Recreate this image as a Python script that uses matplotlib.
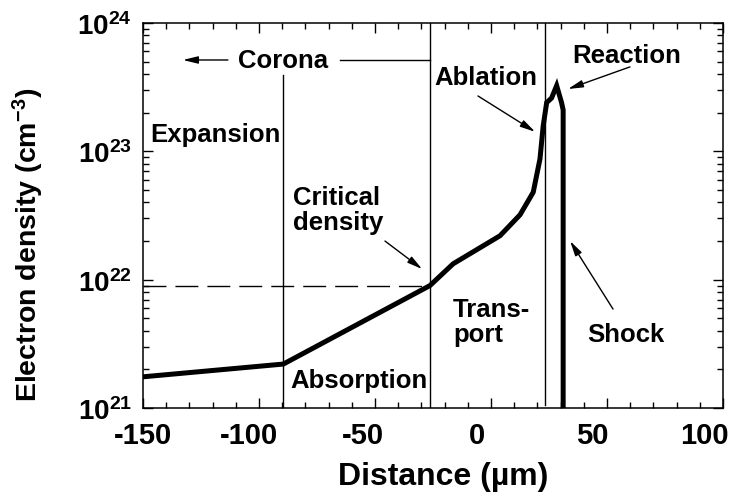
import numpy as np
import matplotlib
matplotlib.use("Agg")
import matplotlib.pyplot as plt
import matplotlib.transforms as mtransforms
from matplotlib.ticker import FixedLocator, LogLocator, MultipleLocator, FuncFormatter, NullFormatter

plt.rcParams['font.family'] = ['Liberation Sans', 'DejaVu Sans']
plt.rcParams['font.weight'] = 'bold'
plt.rcParams['mathtext.fontset'] = 'custom'
plt.rcParams['mathtext.rm'] = 'Liberation Sans:bold'
plt.rcParams['mathtext.bf'] = 'Liberation Sans:bold'
plt.rcParams['mathtext.it'] = 'Liberation Sans:bold'
plt.rcParams['mathtext.default'] = 'rm'

# ---- data ----
distance = [-150, -89.5, -26.3, -16.3, 3.9, 12.5, 18.2, 21.1, 22.5, 24.0, 26.1, 28.3, 30.4, 31.1, 31.1]
density = [1.75e21, 2.2e21, 9.0e21, 1.33e22, 2.2e22, 3.2e22, 4.8e22, 8.7e22, 1.58e23,
           2.4e23, 2.6e23, 3.25e23, 2.4e23, 2.1e23, 1.0e21]
critical_density = 9.0e21
boundaries = [-89.5, -26.3, 23.2]        # region boundary positions (um)
x_ticks = [-150, -100, -50, 0, 50, 100]
y_ticks = [1e21, 1e22, 1e23, 1e24]

fig = plt.figure(figsize=(7.37, 5.02), dpi=100)
ax = fig.add_axes([143/737, 1 - 409/502, (723-143)/737, (409-24)/502])
ax.set_yscale('log')
ax.set_xlim(-150, 100)
ax.set_ylim(1e21, 1e24)

# main curve
ax.plot(distance, density, color='black', lw=3.6, solid_joinstyle='miter', zorder=5)

# critical density dashed line
ax.plot([-150, boundaries[1]], [critical_density, critical_density], color='black', lw=1.0,
        dashes=(16.5, 6.5))

# region boundaries
ax.plot([boundaries[0], boundaries[0]], [3.9e23, 1e21], color='black', lw=1.0)
ax.plot([boundaries[1], boundaries[1]], [1e24, 1e21], color='black', lw=1.0)
ax.plot([boundaries[2], boundaries[2]], [1e24, 1.05e21], color='black', lw=1.0)

# corona bracket line
ax.plot([-65.1, boundaries[1]], [5.15e23, 5.15e23], color='black', lw=1.0)

fs = 18.5
arrow = dict(arrowstyle='-|>,head_length=0.9,head_width=0.22', color='black', lw=1.0,
             shrinkA=0, shrinkB=0)

ax.annotate('', xy=(-132.8, 5.15e23), xytext=(-113.4, 5.15e23), arrowprops=arrow)
ax.text(-89.7, 4.55e23, 'Corona', fontsize=fs, ha='center', va='baseline')
ax.text(-147, 1.21e23, 'Expansion', fontsize=fs, ha='left', va='baseline')
ax.text(-85.3, 3.89e22, 'Critical', fontsize=fs, ha='left', va='baseline')
ax.text(-85.3, 2.48e22, 'density', fontsize=fs, ha='left', va='baseline')
ax.annotate('', xy=(-29.7, 1.21e22), xytext=(-45.7, 2.0e22), arrowprops=arrow)
ax.text(-86.6, 1.46e21, 'Absorption', fontsize=fs, ha='left', va='baseline')
ax.text(-2.2, 3.35e23, 'Ablation', fontsize=fs, ha='center', va='baseline')
ax.annotate('', xy=(19.0, 1.42e23), xytext=(-5.6, 2.7e23), arrowprops=arrow)
ax.text(58.6, 4.98e23, 'Reaction', fontsize=fs, ha='center', va='baseline')
ax.annotate('', xy=(33.2, 3.06e23), xytext=(59.9, 4.55e23), arrowprops=arrow)
ax.text(-16.4, 5.21e21, 'Trans-', fontsize=fs, ha='left', va='baseline')
ax.text(-16.4, 3.33e21, 'port', fontsize=fs, ha='left', va='baseline')
ax.text(58.2, 3.33e21, 'Shock', fontsize=fs, ha='center', va='baseline')
ax.annotate('', xy=(34.1, 2.0e22), xytext=(52.6, 5.9e21), arrowprops=arrow)

# ticks
ax.xaxis.set_major_locator(FixedLocator(x_ticks))
ax.xaxis.set_minor_locator(MultipleLocator(10))
ax.yaxis.set_major_locator(FixedLocator(y_ticks))
ax.yaxis.set_minor_locator(LogLocator(base=10, subs=np.arange(2, 10)))
ax.yaxis.set_minor_formatter(NullFormatter())
ax.yaxis.set_major_formatter(FuncFormatter(lambda v, p: r'$10^{%d}$' % int(round(np.log10(v)))))
ax.xaxis.set_major_formatter(FuncFormatter(lambda v, p: '%d' % v))
ax.tick_params(which='both', direction='in', top=True, right=True, width=1.0)
ax.tick_params(axis='x', labelsize=21)
ax.tick_params(axis='y', labelsize=20)
ax.tick_params(which='major', length=7)
ax.tick_params(axis='x', which='major', pad=9)
ax.tick_params(axis='y', which='major', pad=8)
ax.tick_params(which='minor', length=4.3)
for s in ax.spines.values():
    s.set_linewidth(1.1)

# x tick labels in the reference sit slightly left of their ticks
label_shift_px = [0, -10, -12, -14, -15, -19]
for lab, dx in zip(ax.get_xticklabels(), label_shift_px):
    lab.set_transform(lab.get_transform() +
                      mtransforms.ScaledTranslation(dx / 100, 0, fig.dpi_scale_trans))

ax.set_xlabel('Distance (µm)', fontsize=23, fontweight='bold')
ax.xaxis.set_label_coords((443 - 143) / 580, (409 - 462) / 385)
ax.set_ylabel(r'Electron density (cm$^{-3}$)', fontsize=20.5, fontweight='bold')
ax.yaxis.set_label_coords((46 - 143) / 580, (409 - 245) / 385)

fig.savefig('out.png', dpi=100)
